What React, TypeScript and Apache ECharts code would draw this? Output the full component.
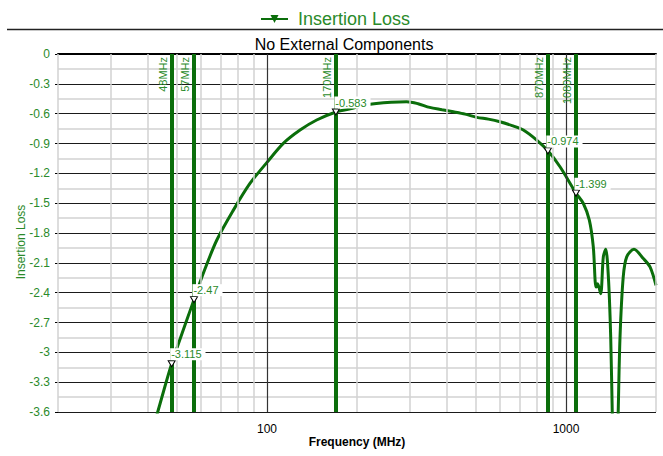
import React, { useEffect, useRef } from "react";
import * as echarts from "echarts";

// Insertion loss curve (frequency in MHz, loss in dB)
const freqMHz = [
  40.5, 43.1, 48, 57, 61.2, 67.9, 77.2, 87.7, 100, 113.4, 129, 146.6, 170, 190, 210, 232, 260, 293, 320, 350,
  385, 420, 460, 503, 550, 601, 660, 720, 798, 870, 955, 1080, 1143, 1197, 1234, 1260, 1276, 1306, 1333, 1358,
  1386, 1411, 1428, 1450, 1475, 1495, 1516, 1554, 1596, 1688, 1814, 1910, 2000,
];
const insertionLoss = [
  -3.88, -3.6, -3.115, -2.47, -2.208, -1.873, -1.57, -1.302, -1.09, -0.899, -0.765, -0.664, -0.583, -0.552, -0.515,
  -0.497, -0.485, -0.48, -0.5, -0.537, -0.56, -0.581, -0.605, -0.637, -0.655, -0.681, -0.72, -0.765, -0.866, -0.974,
  -1.134, -1.399, -1.503, -1.671, -1.94, -2.343, -2.31, -2.41, -2.04, -1.963, -2.242, -2.846, -3.6, -4.4, -4.4, -3.6,
  -2.846, -2.242, -2.04, -1.963, -2.057, -2.141, -2.326,
];

// Frequency markers
const markerFreqs = [48, 57, 170, 870, 1080];
const markerNames = ["48MHz", "57MHz", "170MHz", "870MHz", "1080MHz"];
const markerValues = [-3.115, -2.47, -0.583, -0.974, -1.399];
const markerValueLabels = ["-3.115", "-2.47", "-0.583", "-0.974", "-1.399"];

// Axis grid / ticks
const minorGridFreqs = [20, 30, 40, 50, 60, 70, 80, 90, 200, 300, 400, 500, 600, 700, 800, 900, 2000];
const majorGridFreqs = [100, 1000];
const xTickLabels = ["100", "1000"];
const yMin = -3.6;
const yMax = 0;
const yInterval = 0.3;

const GREEN_LINE = "#0b6e0b";
const GREEN_TEXT = "#2a8a2a";
const FONT = "'Liberation Sans', Arial, sans-serif";

export default function App() {
  const ref = useRef<HTMLDivElement>(null);
  useEffect(() => {
    if (!ref.current) return;
    const chart = echarts.init(ref.current, undefined, { renderer: "svg" });
    const curve = freqMHz.map((f, i) => [f, insertionLoss[i]]);
    const pts = markerFreqs.map((f, i) => [f, markerValues[i]]);
    const downTri = "path://M0,0L10,0L5,9Z";
    chart.setOption({
      animation: false,
      backgroundColor: "#fff",
      textStyle: { fontFamily: FONT },
      title: {
        text: "No External Components",
        left: 339,
        textAlign: "center",
        top: 31,
        textStyle: { fontSize: 16, fontWeight: "normal", color: "#000", fontFamily: FONT },
      },
      legend: {
        data: ["Insertion Loss"],
        left: 255,
        top: 5,
        itemWidth: 27,
        itemHeight: 10,
        textStyle: { fontSize: 18, color: GREEN_TEXT, fontFamily: FONT, padding: [0, 0, 0, 5] },
      },
      graphic: [
        {
          type: "line",
          shape: { x1: 7, y1: 29.5, x2: 663, y2: 29.5 },
          style: { stroke: "#222", lineWidth: 1.5 },
          silent: true,
        },
      ],
      grid: { left: 58, right: 7, top: 54, bottom: 44, containLabel: false },
      xAxis: {
        type: "log",
        logBase: 10,
        min: 20,
        max: 2000,
        z: 1,
        name: "Frequency (MHz)",
        nameLocation: "middle",
        nameGap: 24,
        nameMoveOverlap: false,
        nameTextStyle: { fontSize: 12, fontWeight: "bold", color: "#000", fontFamily: FONT },
        axisLine: { show: true, lineStyle: { color: "#000", width: 2 } },
        axisTick: { show: false },
        splitLine: { show: false },
        axisLabel: {
          fontSize: 12,
          color: "#000",
          margin: 11,
          formatter: (v: number) => {
            const s = String(Math.round(v));
            return xTickLabels.indexOf(s) >= 0 ? s : "";
          },
        },
      },
      yAxis: {
        type: "value",
        min: yMin,
        max: yMax,
        interval: yInterval,
        z: 1,
        name: "Insertion Loss",
        nameLocation: "middle",
        nameGap: 31,
        nameMoveOverlap: false,
        nameTextStyle: { fontSize: 12, color: GREEN_TEXT, fontFamily: FONT, padding: [0, 18, 0, 0] },
        axisLine: { show: false },
        axisTick: { show: true, length: 3, lineStyle: { color: "#000" } },
        axisLabel: { fontSize: 12, color: GREEN_TEXT, margin: 8 },
        splitLine: { show: true, lineStyle: { color: "#1a1a1a", width: 1.2 } },
        minorTick: { show: false, splitNumber: 2 },
        minorSplitLine: { show: true, lineStyle: { color: "#d2d2d2", width: 1.5 } },
      },
      series: [
        {
          name: "gridMinor",
          type: "line",
          data: [],
          z: 0,
          silent: true,
          markLine: {
            silent: true,
            symbol: "none",
            label: { show: false },
            lineStyle: { color: "#d2d2d2", width: 1.5, type: "solid" },
            data: minorGridFreqs.map((f) => ({ xAxis: f })),
          },
        },
        {
          name: "gridMajor",
          type: "line",
          data: [],
          z: 0,
          silent: true,
          markLine: {
            silent: true,
            symbol: "none",
            label: { show: false },
            lineStyle: { color: "#333", width: 1.2, type: "solid" },
            data: majorGridFreqs.map((f) => ({ xAxis: f })),
          },
        },
        {
          name: "markers",
          type: "line",
          data: [],
          z: 3,
          silent: true,
          markLine: {
            silent: true,
            symbol: "none",
            lineStyle: { color: GREEN_LINE, width: 4, type: "solid" },
            label: {
              show: true,
              position: "insideEndTop",
              formatter: "{b}",
              fontSize: 11,
              color: GREEN_TEXT,
              distance: 3,
              fontFamily: FONT,
            },
            data: markerFreqs.map((f, i) => ({ xAxis: f, name: markerNames[i] })),
          },
        },
        {
          name: "Insertion Loss",
          type: "line",
          data: curve,
          z: 4,
          showSymbol: false,
          symbol: downTri,
          symbolSize: [10, 9],
          smooth: 0.3,
          clip: true,
          itemStyle: { color: GREEN_LINE },
          lineStyle: { color: GREEN_LINE, width: 3 },
        },
        {
          name: "points",
          type: "scatter",
          z: 6,
          data: pts,
          symbol: downTri,
          symbolSize: [7, 6],
          itemStyle: { color: "#fff", borderColor: "#000", borderWidth: 1, opacity: 1 },
          emphasis: { disabled: true },
          label: {
            show: true,
            position: [2.5, -12],
            formatter: (p: any) => markerValueLabels[p.dataIndex],
            fontSize: 11,
            color: GREEN_TEXT,
            opacity: 1,
            backgroundColor: "#fff",
            padding: [0, 4, 0, 1],
            lineHeight: 12,
            fontFamily: FONT,
          },
        },
      ],
    });
    return () => chart.dispose();
  }, []);
  return (
    <div
      ref={ref}
      style={{ position: "fixed", left: 0, top: 0, width: 663, height: 456, background: "#fff" }}
    />
  );
}
